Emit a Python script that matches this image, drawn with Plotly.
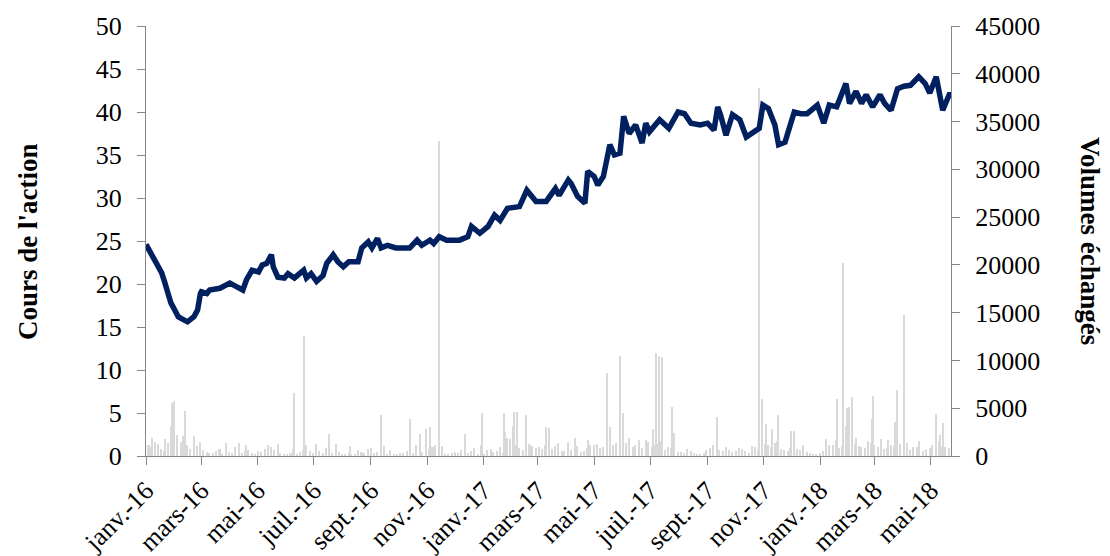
import plotly.graph_objects as go
import pandas as pd

# ---------------- data ----------------
price_dates = [
    "2016-01-01", "2016-01-05", "2016-01-11", "2016-01-18", "2016-01-21", "2016-01-25", "2016-01-28",
    "2016-02-01", "2016-02-05", "2016-02-08", "2016-02-15", "2016-02-22", "2016-02-26", "2016-02-29",
    "2016-03-01", "2016-03-07", "2016-03-10", "2016-03-21", "2016-04-01", "2016-04-08", "2016-04-15",
    "2016-04-19", "2016-04-25", "2016-05-02", "2016-05-06", "2016-05-11", "2016-05-16", "2016-05-18",
    "2016-05-23", "2016-05-30", "2016-06-03", "2016-06-10", "2016-06-20", "2016-06-23", "2016-06-28",
    "2016-07-04", "2016-07-11", "2016-07-15", "2016-07-22", "2016-07-27", "2016-08-02", "2016-08-08",
    "2016-08-18", "2016-08-22", "2016-08-29", "2016-09-02", "2016-09-08", "2016-09-12", "2016-09-19",
    "2016-09-28", "2016-10-13", "2016-10-21", "2016-10-26", "2016-11-04", "2016-11-08", "2016-11-14",
    "2016-11-22", "2016-12-06", "2016-12-15", "2016-12-19", "2016-12-28", "2017-01-06", "2017-01-13",
    "2017-01-19", "2017-01-27", "2017-02-09", "2017-02-17", "2017-02-27", "2017-03-10", "2017-03-20",
    "2017-03-24", "2017-04-03", "2017-04-06", "2017-04-13", "2017-04-21", "2017-04-24", "2017-05-01",
    "2017-05-05", "2017-05-11", "2017-05-18", "2017-05-23", "2017-05-29", "2017-06-02", "2017-06-08",
    "2017-06-15", "2017-06-22", "2017-06-26", "2017-06-30", "2017-07-11", "2017-07-21", "2017-07-31",
    "2017-08-07", "2017-08-14", "2017-08-24", "2017-09-01", "2017-09-08", "2017-09-12", "2017-09-15",
    "2017-09-21", "2017-09-28", "2017-10-06", "2017-10-13", "2017-10-20", "2017-10-27", "2017-10-31",
    "2017-11-06", "2017-11-13", "2017-11-17", "2017-11-24", "2017-12-04", "2017-12-11", "2017-12-18",
    "2017-12-29", "2018-01-05", "2018-01-11", "2018-01-19", "2018-01-29", "2018-02-02", "2018-02-09",
    "2018-02-15", "2018-02-20", "2018-02-27", "2018-03-07", "2018-03-12", "2018-03-19", "2018-03-26",
    "2018-04-02", "2018-04-09", "2018-04-18", "2018-04-25", "2018-04-30", "2018-05-07", "2018-05-14",
    "2018-05-21", "2018-05-23",
]
price_values = [
    24.6, 23.8, 22.4, 21.3, 20.3, 18.9, 17.8,
    17.0, 16.2, 16.0, 15.6, 16.2, 17.0, 18.9,
    19.1, 18.9, 19.3, 19.5, 20.1, 19.7, 19.3,
    20.5, 21.6, 21.4, 22.2, 22.4, 23.4, 22.0,
    20.8, 20.7, 21.2, 20.7, 21.6, 20.7, 21.2,
    20.3, 21.0, 22.4, 23.4, 22.6, 22.0, 22.6,
    22.6, 24.2, 24.9, 24.2, 25.3, 24.2, 24.5,
    24.2, 24.2, 25.1, 24.5, 25.1, 24.7, 25.5,
    25.1, 25.1, 25.5, 26.7, 25.9, 26.7, 28.0,
    27.4, 28.8, 29.0, 30.9, 29.6, 29.6, 31.1,
    30.3, 32.1, 31.7, 30.2, 29.4, 33.1, 32.5,
    31.5, 32.5, 36.2, 35.0, 35.2, 39.5, 37.5,
    38.5, 36.4, 38.7, 37.7, 39.1, 38.1, 40.0,
    39.8, 38.7, 38.5, 38.7, 37.9, 40.6, 39.7,
    37.3, 39.7, 39.1, 37.1, 37.7, 38.1, 40.8,
    40.4, 38.5, 36.2, 36.5, 40.0, 39.8, 39.8,
    40.8, 38.7, 40.8, 40.6, 43.3, 41.0, 42.4,
    41.0, 42.0, 40.6, 42.0, 41.0, 40.2, 42.7,
    43.0, 43.1, 44.1, 43.3, 42.2, 44.1, 40.2,
    42.0, 42.0,
]

# background trading volumes, Mondays from 2016-01-04
monday_start = "2016-01-04"
monday_volumes = [
    1100, 600, 700, 1400,
    900, 1500, 1100, 800, 500,
    400, 300, 700, 250,
    350, 800, 500, 300,
    550, 700, 950, 400, 250,
    300, 200, 650, 500,
    1300, 350, 250, 550,
    200, 300, 150, 400, 700,
    350, 600, 250, 200,
    300, 500, 350, 800, 550,
    900, 400, 250, 350,
    300, 200, 550, 150,
    250, 700, 500, 350, 400,
    1100, 600, 1300, 850,
    700, 1500, 1000, 550,
    900, 650, 400, 800,
    1200, 850, 1500, 1100, 700,
    1400, 950, 1400, 1100,
    900, 1300, 600, 800, 400,
    350, 550, 250, 300,
    800, 1000, 500, 650,
    550, 700, 350, 900, 1250,
    1100, 1400, 700, 550,
    950, 600, 400, 250,
    350, 850, 1100, 800, 1300,
    1700, 1000, 850, 1400,
    950, 700, 1200, 1500,
    1100, 650, 900, 550, 800,
    1250, 950, 850,
]

# background trading volumes, Thursdays from 2016-01-07
thursday_start = "2016-01-07"
thursday_volumes = [
    900, 1300, 500, 800,
    2200, 1200, 700, 1000,
    600, 300, 500, 200, 400,
    900, 300, 600, 250,
    400, 1100, 600, 300,
    250, 700, 400, 900, 300,
    500, 800, 300, 400,
    250, 150, 600, 300,
    800, 400, 300, 650, 200,
    350, 600, 1100, 400,
    700, 1200, 500, 250,
    400, 650, 300, 800, 1100,
    600, 400, 900, 1300,
    1500, 800, 1700, 1000,
    900, 1200, 700, 1400, 500,
    600, 1000, 500, 1100,
    1300, 900, 1800, 1400,
    1000, 1900, 1200, 800, 1500,
    1100, 1600, 900, 500,
    400, 700, 300, 250, 600,
    1200, 600, 900, 400,
    800, 500, 1000, 700,
    1300, 900, 1600, 600, 800,
    700, 1100, 300, 200,
    500, 1200, 1700, 1000,
    1500, 1300, 900, 1600,
    1200, 1800, 800, 1000, 1300,
    1400, 900, 1600, 700,
    1100, 1500, 900,
]

# notable daily volumes
spike_dates = [
    "2016-01-08", "2016-01-11", "2016-01-22", "2016-01-28", "2016-01-29", "2016-02-01", "2016-02-10",
    "2016-02-12", "2016-02-22", "2016-02-29", "2016-03-28", "2016-04-11", "2016-04-19", "2016-05-23",
    "2016-06-10", "2016-06-20", "2016-06-23", "2016-07-18", "2016-07-25", "2016-08-09", "2016-09-12",
    "2016-09-15", "2016-10-13", "2016-10-24", "2016-10-31", "2016-11-04", "2016-11-14", "2016-11-17",
    "2016-12-12", "2016-12-30", "2017-01-23", "2017-01-24", "2017-01-27", "2017-01-30", "2017-02-02",
    "2017-02-03", "2017-02-06", "2017-02-16", "2017-02-20", "2017-03-10", "2017-03-13", "2017-04-03",
    "2017-04-10", "2017-04-24", "2017-05-15", "2017-05-18", "2017-05-29", "2017-06-01", "2017-06-19",
    "2017-06-26", "2017-07-04", "2017-07-07", "2017-07-10", "2017-07-14", "2017-07-24", "2017-07-27",
    "2017-09-11", "2017-10-27", "2017-10-30", "2017-11-03", "2017-11-10", "2017-11-16", "2017-12-01",
    "2017-12-04", "2018-01-08", "2018-01-19", "2018-01-26", "2018-01-29", "2018-01-30", "2018-02-01",
    "2018-02-05", "2018-02-09", "2018-02-26", "2018-02-27", "2018-03-16", "2018-03-23", "2018-03-26",
    "2018-04-02", "2018-05-07", "2018-05-11", "2018-05-14",
]
spike_volumes = [
    1850, 1500, 1800, 3100, 5500, 5750, 2100,
    4750, 2100, 1500, 1400, 1400, 1150, 1300,
    6600, 12550, 1150, 2300, 1300, 1050, 4300,
    1050, 3850, 2300, 2800, 3000, 33000, 1050,
    2300, 4550, 4450, 2550, 1900, 1750, 3150,
    4650, 4650, 4300, 1150, 3050, 2900, 1500,
    1850, 1650, 8650, 3050, 10450, 4450, 1650,
    1650, 2800, 10750, 10500, 10400, 5150, 2450,
    4050, 38500, 5950, 3350, 2800, 4300, 2650,
    2650, 1750, 5950, 20200, 3150, 5000, 5150,
    6150, 1900, 3850, 6300, 1650, 3600, 6900,
    14750, 4400, 2200, 3500,
]

tick_dates = [
    "2016-01-01", "2016-03-01", "2016-05-01", "2016-07-01", "2016-09-01", "2016-11-01",
    "2017-01-01", "2017-03-01", "2017-05-01", "2017-07-01", "2017-09-01", "2017-11-01",
    "2018-01-01", "2018-03-01", "2018-05-01",
]
tick_labels = [
    "janv.-16", "mars-16", "mai-16", "juil.-16", "sept.-16", "nov.-16",
    "janv.-17", "mars-17", "mai-17", "juil.-17", "sept.-17", "nov.-17",
    "janv.-18", "mars-18", "mai-18",
]

# ---------------- figure ----------------
FONT = "Liberation Serif, Times New Roman, serif"
AXIS_GRAY = "#868686"
BAR_GRAY = "#d9d9d9"
DAY_MS = 86400000

monday_dates = pd.date_range(monday_start, periods=len(monday_volumes), freq="7D")
thursday_dates = pd.date_range(thursday_start, periods=len(thursday_volumes), freq="7D")

fig = go.Figure()
for xs, ys, w in [
    (monday_dates, monday_volumes, 1.7),
    (thursday_dates, thursday_volumes, 1.5),
    (pd.to_datetime(spike_dates), spike_volumes, 1.3),
]:
    fig.add_trace(go.Bar(
        x=xs, y=ys, yaxis="y",
        width=w * DAY_MS, marker=dict(color=BAR_GRAY, line=dict(width=0)),
        name="Volumes échangés", showlegend=False, hoverinfo="x+y",
    ))
fig.add_trace(go.Scatter(
    x=pd.to_datetime(price_dates), y=price_values, yaxis="y2",
    mode="lines", line=dict(color="#002060", width=5.5, shape="linear"),
    name="Cours de l'action", showlegend=False,
))

tick_font = dict(family=FONT, size=26, color="#000000")

# the page body has an 8px margin: the figure is sized so the plot area
# lands at x 146-951, y 26-456 of the 1110x556 window
fig.update_layout(
    width=1102, height=548,
    margin=dict(l=138, r=159, t=18, b=100, autoexpand=False),
    paper_bgcolor="white", plot_bgcolor="white",
    barmode="overlay", bargap=0,
    font=dict(family=FONT, size=26, color="#000000"),
    xaxis=dict(
        type="date",
        range=["2016-01-01", "2018-05-23"],
        tickmode="array", tickvals=tick_dates, ticktext=tick_labels,
        tickangle=-45, tickfont=tick_font,
        ticks="outside", ticklen=8, tickwidth=1, tickcolor=AXIS_GRAY,
        showline=True, linecolor=AXIS_GRAY, linewidth=1,
        showgrid=False, zeroline=False, automargin=False,
    ),
    yaxis=dict(
        side="right", range=[0, 45000], dtick=5000, tick0=0,
        tickfont=tick_font, tickformat="d",
        ticks="outside", ticklen=8, tickwidth=1, tickcolor=AXIS_GRAY,
        showline=True, linecolor=AXIS_GRAY, linewidth=1,
        showgrid=False, zeroline=False, automargin=False,
        ticklabelstandoff=10,
    ),
    yaxis2=dict(
        side="left", overlaying="y", range=[0, 50], dtick=5, tick0=0,
        tickfont=tick_font,
        ticks="outside", ticklen=8, tickwidth=1, tickcolor=AXIS_GRAY,
        showline=True, linecolor=AXIS_GRAY, linewidth=1,
        showgrid=False, zeroline=False, automargin=False,
        ticklabelstandoff=10,
    ),
    annotations=[
        dict(text="<b>Cours de l'action</b>", textangle=-90,
             xref="paper", yref="paper", x=-0.1466, y=0.5,
             xanchor="center", yanchor="middle", showarrow=False,
             font=dict(family=FONT, size=27, color="#000000")),
        dict(text="<b>Volumes échangés</b>", textangle=90,
             xref="paper", yref="paper", x=1.1727, y=0.5,
             xanchor="center", yanchor="middle", showarrow=False,
             font=dict(family=FONT, size=27, color="#000000")),
    ],
)

fig.write_html("out.html")
